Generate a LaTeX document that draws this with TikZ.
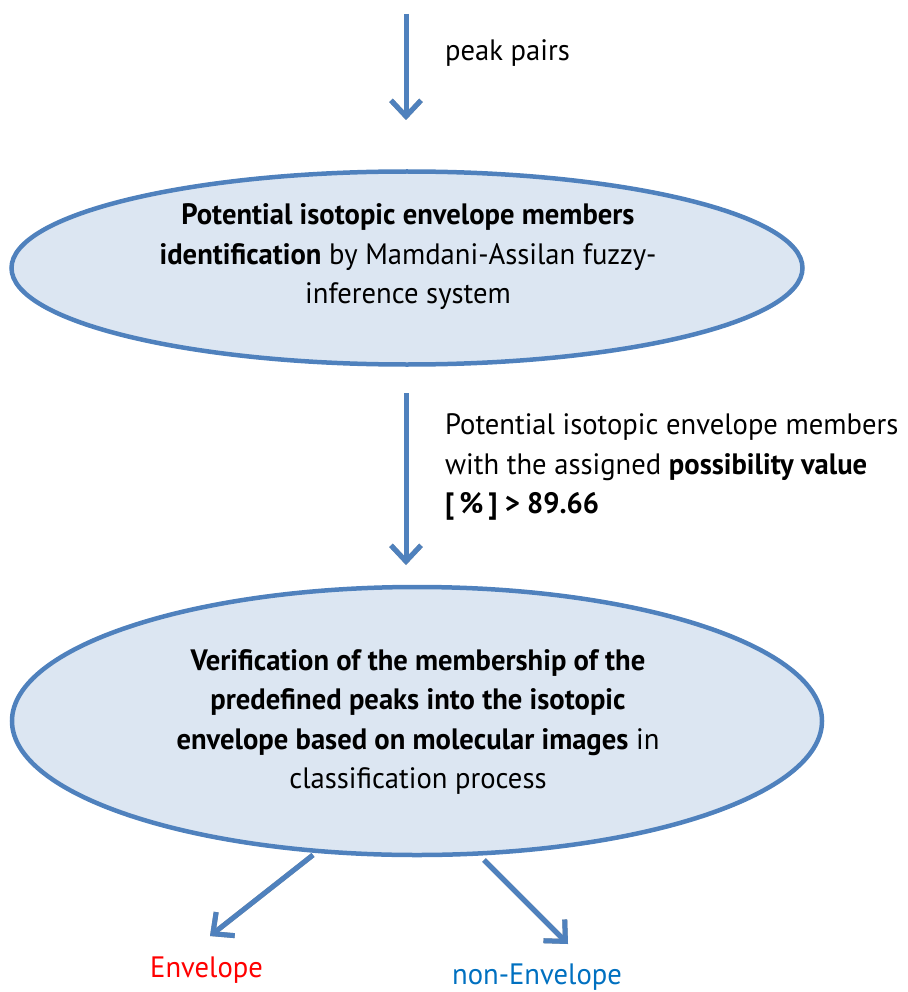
\documentclass[tikz,border=0pt]{standalone}
\usepackage{fontspec}
\setmainfont{PT Sans}[FakeStretch=0.97]
\usetikzlibrary{shapes.geometric,arrows.meta}
\definecolor{arrowblue}{HTML}{4F81BD}
\definecolor{ellfill}{HTML}{DCE6F2}
\definecolor{envred}{HTML}{FF0000}
\definecolor{envblue}{HTML}{0070C0}
\tikzset{
  ell/.style={ellipse, draw=arrowblue, fill=ellfill, line width=4.5pt, inner sep=0pt},
  txt/.style={font=\fontsize{29.5}{39.5}\selectfont, inner sep=0pt},
  flow/.style={draw=arrowblue, line width=5pt, -{Straight Barb[length=16pt,width=30pt,line width=5pt]}},
  flowshadow/.style={draw=black!40, line width=5pt, -{Straight Barb[length=16pt,width=30pt,line width=5pt]}, shift={(2pt,-2.5pt)}},
}
\begin{document}
\begin{tikzpicture}[x=1pt,y=-1pt]
\useasboundingbox (0,0) rectangle (907,992);
% ellipses
\node[ell, minimum width=791pt, minimum height=193pt] (e1) at (407,268) {};
\node[ell, minimum width=810pt, minimum height=268pt] (e2) at (417,721) {};
% coordinates for arrows
\coordinate (a1s) at (406,14);
\coordinate (a1e) at (406,120);
\coordinate (a2s) at (406,393);
\coordinate (a2e) at (406,565);
\coordinate (a3s) at (313,855);
\coordinate (a3e) at (210,936);
\coordinate (a4s) at (484,860);
\coordinate (a4e) at (568,944);
% shadows
\foreach \s/\e in {a1s/a1e,a2s/a2e,a3s/a3e,a4s/a4e}
  \draw[flowshadow] (\s) -- (\e);
% arrows
\foreach \s/\e in {a1s/a1e,a2s/a2e,a3s/a3e,a4s/a4e}
  \draw[flow] (\s) -- (\e);
% texts
\node[txt, anchor=west] (t1) at (445,53) {peak pairs};
\node[txt, align=center] (t2) at (408,257) {\textbf{Potential isotopic envelope members}\\\textbf{identification} by Mamdani-Assilan fuzzy-\\inference system};
\node[txt, anchor=west, align=left] (t3) at (445,467) {Potential isotopic envelope members\\with the assigned \textbf{possibility value}\\\textbf{[\,\%\,] > 89.66}};
\node[txt, align=center] (t4) at (418,722) {\textbf{Verification of the membership of the}\\\textbf{predefined peaks into the isotopic}\\\textbf{envelope based on molecular images} in\\classification process};
\node[txt, text=envred, anchor=west] (t5) at (150,970) {Envelope};
\node[txt, text=envblue, anchor=west] (t6) at (452,977) {non-Envelope};
\end{tikzpicture}
\end{document}
